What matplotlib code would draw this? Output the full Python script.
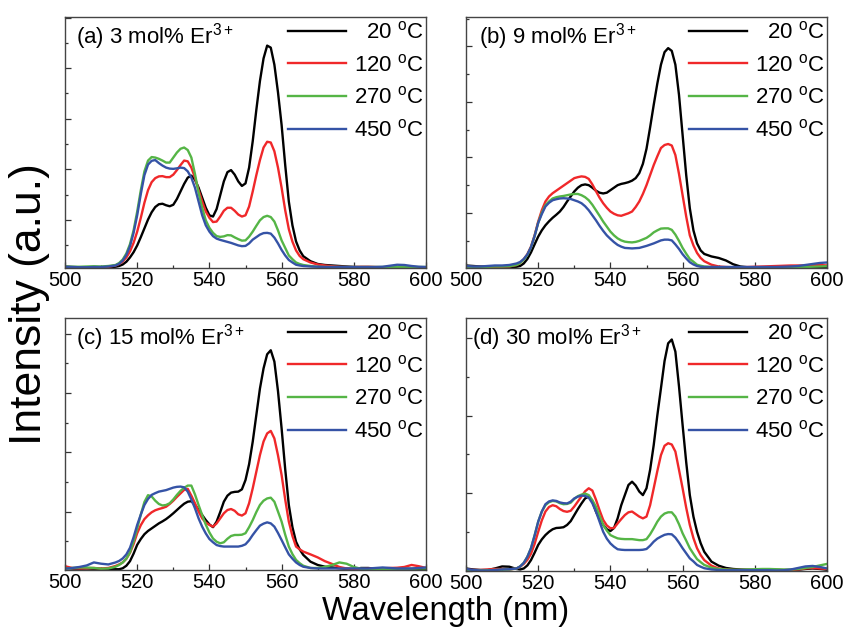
import matplotlib
matplotlib.use("Agg")
import matplotlib.pyplot as plt
from matplotlib.ticker import MultipleLocator

plt.rcParams['font.family'] = ['Liberation Sans', 'DejaVu Sans']
plt.rcParams['mathtext.fontset'] = 'custom'
plt.rcParams['mathtext.rm'] = 'Liberation Sans'
plt.rcParams['mathtext.it'] = 'Liberation Sans:italic'
plt.rcParams['mathtext.bf'] = 'Liberation Sans:bold'
plt.rcParams['mathtext.default'] = 'regular'

# wavelength grid (nm)
wl = list(range(500, 515, 2)) + list(range(515, 567)) + list(range(568, 601, 2))

temps = ["20", "120", "270", "450"]
panel_titles = ["(a) 3 mol% Er$^{3+}$", "(b) 9 mol% Er$^{3+}$",
                "(c) 15 mol% Er$^{3+}$", "(d) 30 mol% Er$^{3+}$"]

# ---------------- panel (a) 3 mol% ----------------
a_20 = [0.005, 0.004, 0.003, 0.002, 0.002, 0.002, 0.003, 0.005,
        0.008, 0.014, 0.025, 0.042, 0.063, 0.09, 0.123, 0.158, 0.193, 0.222, 0.243, 0.254, 0.256, 0.25, 0.246,
        0.252, 0.275, 0.305, 0.335, 0.36, 0.368, 0.352, 0.32, 0.28, 0.24, 0.21, 0.205, 0.235, 0.29, 0.345, 0.382,
        0.39, 0.372, 0.345, 0.327, 0.337, 0.4, 0.505, 0.63, 0.745, 0.835, 0.886, 0.878, 0.81, 0.7, 0.57, 0.41,
        0.265, 0.17, 0.106, 0.07, 0.047,
        0.027, 0.016, 0.012, 0.01, 0.008, 0.006, 0.004, 0.003, 0.002, 0.002, 0.002, 0.002, 0.002, 0.003, 0.003,
        0.002, 0.002]
a_120 = [0.004, 0.003, 0.002, 0.002, 0.003, 0.003, 0.005, 0.01,
         0.016, 0.026, 0.042, 0.066, 0.1, 0.145, 0.2, 0.26, 0.31, 0.342, 0.358, 0.365, 0.366, 0.362, 0.362,
         0.372, 0.39, 0.41, 0.428, 0.425, 0.4, 0.36, 0.31, 0.265, 0.225, 0.2, 0.183, 0.185, 0.205, 0.228, 0.24,
         0.24, 0.228, 0.213, 0.205, 0.21, 0.245, 0.305, 0.37, 0.43, 0.48, 0.503, 0.5, 0.465, 0.4, 0.32, 0.23,
         0.155, 0.105, 0.07, 0.048, 0.035,
         0.022, 0.014, 0.01, 0.007, 0.005, 0.004, 0.004, 0.005, 0.005, 0.004, 0.003, 0.003, 0.003, 0.004, 0.004,
         0.003, 0.002]
a_270 = [0.006, 0.005, 0.005, 0.006, 0.007, 0.006, 0.008, 0.012,
         0.02, 0.034, 0.058, 0.095, 0.15, 0.225, 0.31, 0.385, 0.428, 0.442, 0.44, 0.435, 0.428, 0.42, 0.42,
         0.44, 0.46, 0.475, 0.48, 0.47, 0.44, 0.375, 0.3, 0.24, 0.19, 0.16, 0.14, 0.127, 0.124, 0.126, 0.131,
         0.13, 0.122, 0.115, 0.109, 0.11, 0.125, 0.145, 0.168, 0.19, 0.203, 0.208, 0.203, 0.185, 0.15, 0.11, 0.08,
         0.05, 0.035, 0.022, 0.016, 0.012,
         0.008, 0.005, 0.004, 0.004, 0.004, 0.004, 0.004, 0.004, 0.004, 0.004, 0.004, 0.004, 0.004, 0.004, 0.004,
         0.004, 0.004]
a_450 = [0.005, 0.004, 0.003, 0.003, 0.004, 0.004, 0.006, 0.01,
         0.017, 0.03, 0.052, 0.087, 0.14, 0.21, 0.295, 0.37, 0.412, 0.427, 0.43, 0.418, 0.408, 0.4, 0.396,
         0.395, 0.397, 0.4, 0.398, 0.385, 0.36, 0.32, 0.265, 0.21, 0.17, 0.145, 0.127, 0.117, 0.112, 0.108, 0.104,
         0.1, 0.095, 0.09, 0.087, 0.088, 0.098, 0.113, 0.123, 0.133, 0.139, 0.14, 0.137, 0.121, 0.098, 0.072, 0.05,
         0.032, 0.022, 0.013, 0.01, 0.008,
         0.006, 0.005, 0.004, 0.004, 0.004, 0.004, 0.004, 0.004, 0.004, 0.004, 0.005, 0.009, 0.013, 0.012, 0.008,
         0.005, 0.004]

# ---------------- panel (b) 9 mol% ----------------
b_20 = [0.01, 0.008, 0.006, 0.005, 0.004, 0.003, 0.003, 0.005,
        0.008, 0.018, 0.036, 0.062, 0.094, 0.125, 0.15, 0.17, 0.186, 0.2, 0.212, 0.225, 0.243, 0.265, 0.285,
        0.305, 0.32, 0.33, 0.333, 0.33, 0.32, 0.308, 0.3, 0.297, 0.3, 0.31, 0.32, 0.33, 0.335, 0.338, 0.342,
        0.348, 0.358, 0.378, 0.415, 0.475, 0.56, 0.65, 0.735, 0.81, 0.86, 0.876, 0.865, 0.81, 0.69, 0.53, 0.37,
        0.238, 0.15, 0.098, 0.07, 0.056,
        0.046, 0.04, 0.03, 0.015, 0.006, 0.003, 0.002, 0.002, 0.002, 0.002, 0.002, 0.002, 0.002, 0.002, 0.002,
        0.002, 0.002]
b_120 = [0.005, 0.004, 0.004, 0.005, 0.005, 0.005, 0.006, 0.012,
         0.02, 0.035, 0.055, 0.085, 0.13, 0.185, 0.23, 0.265, 0.285, 0.298, 0.308, 0.318, 0.328, 0.338, 0.348,
         0.358, 0.362, 0.365, 0.363, 0.355, 0.333, 0.306, 0.28, 0.258, 0.24, 0.225, 0.216, 0.21, 0.208, 0.213, 0.218,
         0.225, 0.243, 0.265, 0.295, 0.33, 0.37, 0.41, 0.445, 0.478, 0.49, 0.494, 0.488, 0.45, 0.375, 0.29, 0.205,
         0.13, 0.09, 0.06, 0.04, 0.027,
         0.013, 0.006, 0.004, 0.003, 0.003, 0.004, 0.005, 0.006, 0.007, 0.008, 0.009, 0.01, 0.01, 0.01, 0.011,
         0.012, 0.01]
b_270 = [0.005, 0.004, 0.004, 0.005, 0.006, 0.006, 0.007, 0.012,
         0.02, 0.033, 0.052, 0.082, 0.127, 0.18, 0.22, 0.25, 0.265, 0.277, 0.282, 0.285, 0.287, 0.29, 0.293,
         0.295, 0.295, 0.29, 0.282, 0.27, 0.252, 0.23, 0.208, 0.185, 0.165, 0.145, 0.13, 0.118, 0.11, 0.105, 0.103,
         0.102, 0.104, 0.108, 0.114, 0.12, 0.13, 0.142, 0.15, 0.157, 0.158, 0.158, 0.152, 0.133, 0.108, 0.08, 0.057,
         0.036, 0.025, 0.013, 0.009, 0.006,
         0.004, 0.003, 0.003, 0.003, 0.003, 0.003, 0.003, 0.003, 0.003, 0.003, 0.003, 0.003, 0.004, 0.004, 0.005,
         0.006, 0.007]
b_450 = [0.008, 0.006, 0.006, 0.008, 0.01, 0.01, 0.012, 0.018,
         0.024, 0.036, 0.054, 0.083, 0.127, 0.18, 0.215, 0.245, 0.26, 0.27, 0.274, 0.277, 0.278, 0.277, 0.275,
         0.27, 0.265, 0.258, 0.246, 0.23, 0.21, 0.19, 0.168, 0.148, 0.13, 0.116, 0.103, 0.092, 0.085, 0.08, 0.079,
         0.078, 0.079, 0.08, 0.084, 0.088, 0.093, 0.098, 0.104, 0.11, 0.113, 0.113, 0.11, 0.094, 0.076, 0.055, 0.038,
         0.023, 0.014, 0.008, 0.005, 0.004,
         0.004, 0.004, 0.004, 0.004, 0.004, 0.004, 0.004, 0.004, 0.004, 0.004, 0.005, 0.006, 0.008, 0.012, 0.016,
         0.02, 0.022]

# ---------------- panel (c) 15 mol% ----------------
c_20 = [0.008, 0.006, 0.005, 0.006, 0.005, 0.004, 0.003, 0.003,
        0.003, 0.007, 0.017, 0.035, 0.065, 0.1, 0.123, 0.142, 0.155, 0.165, 0.175, 0.185, 0.193, 0.202, 0.213,
        0.225, 0.238, 0.251, 0.263, 0.271, 0.273, 0.258, 0.24, 0.218, 0.198, 0.181, 0.17, 0.192, 0.23, 0.271, 0.295,
        0.307, 0.31, 0.311, 0.32, 0.357, 0.42, 0.509, 0.615, 0.72, 0.8, 0.856, 0.872, 0.827, 0.71, 0.562, 0.4,
        0.258, 0.17, 0.112, 0.082, 0.06,
        0.033, 0.02, 0.013, 0.01, 0.007, 0.005, 0.004, 0.008, 0.008, 0.005, 0.004, 0.004, 0.005, 0.005, 0.004,
        0.004, 0.004]
c_120 = [0.015, 0.008, 0.006, 0.007, 0.008, 0.006, 0.008, 0.016,
         0.022, 0.03, 0.045, 0.068, 0.103, 0.146, 0.178, 0.202, 0.217, 0.229, 0.237, 0.242, 0.246, 0.251, 0.262,
         0.275, 0.29, 0.304, 0.318, 0.322, 0.295, 0.265, 0.232, 0.205, 0.188, 0.179, 0.172, 0.185, 0.205, 0.225, 0.238,
         0.242, 0.235, 0.221, 0.216, 0.225, 0.265, 0.324, 0.39, 0.456, 0.51, 0.542, 0.552, 0.522, 0.455, 0.377, 0.28,
         0.192, 0.135, 0.093, 0.082, 0.073,
         0.062, 0.05, 0.035, 0.024, 0.012, 0.006, 0.004, 0.004, 0.005, 0.006, 0.007, 0.008, 0.009, 0.012, 0.02,
         0.015, 0.008]
c_270 = [0.006, 0.008, 0.01, 0.01, 0.008, 0.005, 0.006, 0.013,
         0.02, 0.03, 0.045, 0.07, 0.113, 0.165, 0.22, 0.27, 0.297, 0.292, 0.275, 0.262, 0.256, 0.258, 0.265,
         0.28, 0.298, 0.314, 0.326, 0.335, 0.335, 0.3, 0.258, 0.218, 0.18, 0.149, 0.125, 0.112, 0.106, 0.11, 0.124,
         0.135, 0.139, 0.139, 0.14, 0.146, 0.17, 0.198, 0.23, 0.258, 0.275, 0.284, 0.287, 0.271, 0.232, 0.192, 0.14,
         0.093, 0.063, 0.04, 0.027, 0.017,
         0.008, 0.008, 0.012, 0.02, 0.03, 0.025, 0.012, 0.005, 0.003, 0.003, 0.003, 0.004, 0.004, 0.004, 0.005,
         0.006, 0.006]
c_450 = [0.005, 0.008, 0.012, 0.018, 0.03, 0.025, 0.022, 0.03,
         0.036, 0.046, 0.062, 0.088, 0.13, 0.179, 0.22, 0.258, 0.282, 0.298, 0.305, 0.311, 0.314, 0.317, 0.322,
         0.327, 0.33, 0.331, 0.328, 0.311, 0.28, 0.245, 0.205, 0.172, 0.145, 0.123, 0.11, 0.099, 0.095, 0.093, 0.093,
         0.093, 0.093, 0.093, 0.096, 0.102, 0.118, 0.139, 0.158, 0.176, 0.184, 0.189, 0.185, 0.172, 0.147, 0.119, 0.09,
         0.062, 0.045, 0.03, 0.02, 0.013,
         0.008, 0.006, 0.006, 0.006, 0.006, 0.006, 0.006, 0.006, 0.006, 0.008, 0.01, 0.008, 0.006, 0.006, 0.006,
         0.008, 0.01]

# ---------------- panel (d) 30 mol% ----------------
d_20 = [0.01, 0.006, 0.004, 0.004, 0.01, 0.018, 0.017, 0.008,
        0.006, 0.01, 0.022, 0.043, 0.072, 0.103, 0.125, 0.142, 0.155, 0.165, 0.17, 0.171, 0.173, 0.182, 0.197,
        0.221, 0.245, 0.267, 0.287, 0.294, 0.275, 0.235, 0.205, 0.182, 0.165, 0.158, 0.17, 0.208, 0.26, 0.3, 0.34,
        0.353, 0.338, 0.314, 0.3, 0.327, 0.4, 0.498, 0.615, 0.722, 0.83, 0.9, 0.915, 0.867, 0.73, 0.577, 0.43,
        0.3, 0.215, 0.155, 0.11, 0.076,
        0.037, 0.021, 0.012, 0.008, 0.006, 0.005, 0.004, 0.004, 0.003, 0.002, 0.002, 0.003, 0.005, 0.008, 0.01,
        0.008, 0.005]
d_120 = [0.006, 0.004, 0.004, 0.006, 0.008, 0.008, 0.006, 0.01,
         0.017, 0.028, 0.044, 0.068, 0.107, 0.155, 0.2, 0.235, 0.253, 0.26, 0.256, 0.245, 0.237, 0.234, 0.238,
         0.255, 0.275, 0.295, 0.315, 0.327, 0.318, 0.282, 0.24, 0.202, 0.18, 0.169, 0.17, 0.188, 0.205, 0.221, 0.232,
         0.235, 0.225, 0.215, 0.208, 0.215, 0.26, 0.327, 0.395, 0.458, 0.495, 0.505, 0.5, 0.472, 0.4, 0.327, 0.25,
         0.182, 0.13, 0.09, 0.063, 0.043,
         0.021, 0.01, 0.006, 0.004, 0.004, 0.004, 0.005, 0.006, 0.006, 0.005, 0.004, 0.004, 0.006, 0.01, 0.012,
         0.01, 0.008]
d_270 = [0.004, 0.002, 0.002, 0.003, 0.004, 0.005, 0.006, 0.01,
         0.018, 0.032, 0.056, 0.09, 0.14, 0.195, 0.235, 0.26, 0.272, 0.277, 0.275, 0.268, 0.264, 0.265, 0.27,
         0.285, 0.296, 0.302, 0.306, 0.3, 0.28, 0.254, 0.218, 0.182, 0.16, 0.142, 0.135, 0.129, 0.127, 0.126, 0.126,
         0.126, 0.124, 0.122, 0.122, 0.126, 0.145, 0.169, 0.195, 0.215, 0.227, 0.232, 0.232, 0.215, 0.185, 0.149, 0.12,
         0.09, 0.068, 0.047, 0.035, 0.024,
         0.013, 0.008, 0.006, 0.005, 0.005, 0.006, 0.007, 0.008, 0.008, 0.007, 0.006, 0.006, 0.008, 0.012, 0.016,
         0.022, 0.028]
d_450 = [0.008, 0.004, 0.002, 0.002, 0.004, 0.006, 0.007, 0.01,
         0.018, 0.032, 0.056, 0.09, 0.14, 0.195, 0.235, 0.264, 0.275, 0.279, 0.277, 0.271, 0.268, 0.267, 0.274,
         0.287, 0.294, 0.298, 0.297, 0.29, 0.268, 0.235, 0.195, 0.155, 0.128, 0.109, 0.096, 0.086, 0.084, 0.083, 0.083,
         0.083, 0.083, 0.083, 0.084, 0.087, 0.1, 0.116, 0.128, 0.136, 0.143, 0.146, 0.145, 0.132, 0.112, 0.09, 0.07,
         0.05, 0.038, 0.024, 0.017, 0.011,
         0.006, 0.004, 0.003, 0.003, 0.003, 0.003, 0.003, 0.003, 0.003, 0.002, 0.003, 0.006, 0.012, 0.018, 0.02,
         0.016, 0.01]

panels = [[a_20, a_120, a_270, a_450],
          [b_20, b_120, b_270, b_450],
          [c_20, c_120, c_270, c_450],
          [d_20, d_120, d_270, d_450]]

colors = ['#000000', '#f0282a', '#55b546', '#3553a6']

# axes rectangles in pixels (style only)
W, H = 845, 629
rects = [(65, 17, 426, 268), (466, 17, 827, 268),
         (65, 318, 426, 570), (466, 318, 827, 571)]
# y tick spacing per panel (fraction of axis height) (style only)
ytick_base = [(0.2016, -0.010), (0.2213, -0.002), (0.2353, -0.004), (0.3067, 0.001)]
title_x = [0.030, 0.036, 0.030, 0.017]

fig = plt.figure(figsize=(W / 100, H / 100), dpi=100)
for i, (l, t, r, b) in enumerate(rects):
    ax = fig.add_axes([l / W, (H - b) / H, (r - l) / W, (b - t) / H])
    handles = []
    for k, ys in enumerate(panels[i]):
        ln, = ax.plot(wl, ys, color=colors[k], lw=1.7, solid_joinstyle='round')
        handles.append(ln)
    ax.set_xlim(500, 600)
    ax.set_ylim(0, 1)
    ax.xaxis.set_major_locator(MultipleLocator(20))
    ax.xaxis.set_minor_locator(MultipleLocator(10))
    base, off = ytick_base[i]
    ax.yaxis.set_major_locator(MultipleLocator(base, offset=off))
    ax.yaxis.set_minor_locator(MultipleLocator(base / 2, offset=off))
    ax.tick_params(which='both', direction='in', top=False, right=False,
                   labelleft=False, width=0.9, color='#333333')
    ax.tick_params(which='major', length=4.6, labelsize=14.5, pad=2)
    ax.tick_params(which='minor', length=2.4)
    for sp in ax.spines.values():
        sp.set_linewidth(1.0)
        sp.set_color('#444444')
    ax.text(title_x[i], 0.896, panel_titles[i], transform=ax.transAxes,
            fontsize=16, va='baseline', ha='left')
    labels = [("  " if len(tp) == 2 else "") + tp + r" $^{\rm o}$C" for tp in temps]
    ax.legend(handles, labels, loc='upper right', bbox_to_anchor=(1.006, 1.0),
              frameon=False, fontsize=16, handlelength=2.6, handletextpad=0.35,
              labelspacing=0.48, borderaxespad=0.0, borderpad=0.2)

fig.text(446 / W, 0.014, 'Wavelength (nm)', fontsize=23.5, ha='center', va='baseline')
fig.text(30 / W, 0.517, 'Intensity (a.u.)', fontsize=32, ha='center', va='center', rotation=90)

fig.savefig('out.png', dpi=100)
